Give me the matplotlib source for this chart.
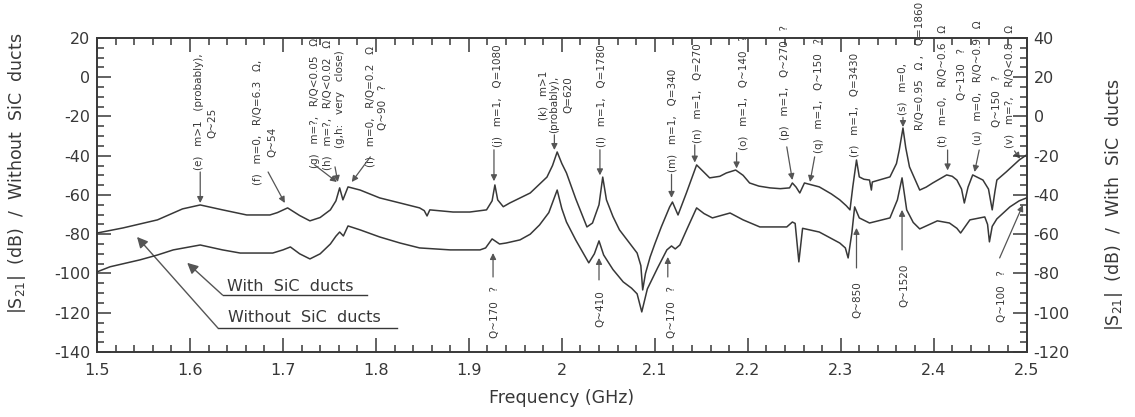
import matplotlib
matplotlib.use("Agg")
import matplotlib.pyplot as plt
from matplotlib.ticker import MultipleLocator

# --- data (GHz, dB) ---
# upper trace, left axis
without_f = [1.500, 1.528, 1.565, 1.592, 1.611, 1.635, 1.661, 1.686, 1.694, 1.705,
             1.718, 1.729, 1.740, 1.751, 1.757, 1.761, 1.7645, 1.770, 1.783, 1.804,
             1.826, 1.847, 1.852, 1.855, 1.858, 1.883, 1.901, 1.919, 1.925, 1.928,
             1.931, 1.937, 1.944, 1.966, 1.984, 1.990, 1.995, 2.000, 2.005, 2.015,
             2.027, 2.033, 2.040, 2.044, 2.048, 2.055, 2.062, 2.072, 2.081, 2.085,
             2.087, 2.090, 2.095, 2.100, 2.107, 2.116, 2.119, 2.125, 2.134, 2.145,
             2.159, 2.170, 2.177, 2.187, 2.195, 2.202, 2.212, 2.224, 2.235, 2.245,
             2.248, 2.252, 2.256, 2.261, 2.277, 2.290, 2.299, 2.306, 2.310, 2.313,
             2.317, 2.320, 2.325, 2.331, 2.333, 2.334, 2.353, 2.360, 2.363, 2.367,
             2.370, 2.374, 2.385, 2.392, 2.399, 2.414, 2.420, 2.425, 2.430, 2.433,
             2.437, 2.442, 2.453, 2.459, 2.463, 2.466, 2.468, 2.478, 2.492, 2.500]
without_db = [-79.4, -76.8, -72.7, -67.1, -65.1, -67.6, -70.2, -70.2, -69.0, -66.6,
              -70.5, -73.2, -71.5, -67.6, -63.0, -56.4, -62.5, -55.9, -57.5, -61.5,
              -64.1, -66.6, -68.0, -70.7, -67.6, -68.7, -68.7, -67.6, -63.0, -54.9,
              -62.5, -66.0, -64.1, -59.0, -50.9, -45.0, -38.1, -44.0, -48.8, -62.0,
              -76.3, -74.3, -65.0, -50.9, -62.5, -71.0, -77.8, -84.0, -89.6, -96.0,
              -108.4, -100.0, -91.6, -85.0, -76.3, -66.1, -63.6, -70.2, -59.0, -44.7,
              -51.3, -50.5, -48.8, -47.3, -50.0, -53.9, -55.5, -56.4, -56.8, -56.4,
              -53.9, -56.0, -59.0, -53.9, -55.9, -59.5, -62.5, -65.5, -67.6, -55.9,
              -42.2, -50.8, -52.0, -52.4, -57.5, -53.4, -50.8, -44.0, -37.1, -25.9,
              -36.0, -45.7, -57.5, -56.0, -53.9, -49.8, -50.5, -52.4, -57.0, -64.1,
              -56.0, -49.8, -52.4, -57.0, -67.6, -58.0, -52.4, -48.3, -42.2, -39.6]

# lower trace, right axis
with_f = [1.500, 1.514, 1.546, 1.565, 1.582, 1.611, 1.635, 1.654, 1.689, 1.700,
          1.708, 1.718, 1.729, 1.740, 1.751, 1.757, 1.761, 1.765, 1.770, 1.783,
          1.804, 1.826, 1.847, 1.880, 1.912, 1.918, 1.925, 1.933, 1.940, 1.955,
          1.966, 1.976, 1.986, 1.995, 2.000, 2.005, 2.015, 2.029, 2.035, 2.040,
          2.045, 2.055, 2.066, 2.075, 2.081, 2.086, 2.092, 2.103, 2.113, 2.118,
          2.122, 2.127, 2.135, 2.145, 2.153, 2.162, 2.181, 2.195, 2.213, 2.242,
          2.248, 2.251, 2.255, 2.259, 2.277, 2.299, 2.305, 2.308, 2.312, 2.315,
          2.320, 2.331, 2.353, 2.361, 2.366, 2.371, 2.378, 2.385, 2.404, 2.417,
          2.425, 2.429, 2.439, 2.455, 2.458, 2.460, 2.463, 2.468, 2.482, 2.492,
          2.500]
with_db = [-79.2, -76.6, -73.1, -70.6, -68.0, -65.5, -68.0, -69.6, -69.6, -68.0,
           -66.5, -70.0, -72.6, -70.0, -65.0, -61.0, -58.9, -60.9, -55.8, -57.8,
           -61.4, -64.5, -67.0, -68.0, -68.0, -67.0, -62.4, -65.0, -64.5, -62.9,
           -60.0, -55.3, -49.0, -37.5, -47.0, -53.8, -63.0, -74.6, -70.0, -63.4,
           -70.6, -78.0, -84.3, -87.5, -90.4, -99.6, -87.9, -77.2, -68.0, -66.0,
           -67.5, -65.5, -57.0, -46.6, -49.5, -51.7, -49.2, -52.7, -56.3, -56.3,
           -53.8, -54.5, -74.1, -57.0, -58.9, -64.5, -67.0, -72.1, -59.4, -46.1,
           -51.7, -54.3, -51.7, -42.5, -31.3, -47.6, -54.0, -57.3, -53.2, -54.3,
           -57.0, -59.4, -52.7, -51.2, -55.0, -63.9, -56.0, -52.2, -46.1, -43.0,
           -41.5]

x_ticks = [1.5, 1.6, 1.7, 1.8, 1.9, 2.0, 2.1, 2.2, 2.3, 2.4, 2.5]
x_ticklabels = ["1.5", "1.6", "1.7", "1.8", "1.9", "2", "2.1", "2.2", "2.3", "2.4", "2.5"]
left_ticks = [-140, -120, -100, -80, -60, -40, -20, 0, 20]
right_ticks = [-120, -100, -80, -60, -40, -20, 0, 20, 40]

# mode labels: (text, x, bottom y in left-axis dB)
top_labels = [
    ("(e)   m>1   (probably),", 1.610, -47.3),
    ("Q~25", 1.624, -31.0),
    ("(f)   m=0,   R/Q=6.3   \u03a9,", 1.673, -54.9),
    ("Q~54", 1.689, -40.6),
    ("(g)   m=?,   R/Q<0.05   \u03a9", 1.734, -46.2),
    ("(h)   m=?,   R/Q<0.02   \u03a9", 1.748, -47.3),
    ("(g,h:   very   close)", 1.761, -36.1),
    ("(i)   m=0,   R/Q=0.2   \u03a9", 1.794, -45.7),
    ("Q~90   ?", 1.808, -26.9),
    ("(j)   m=1,   Q=1080", 1.931, -35.5),
    ("(k)   m>1", 1.980, -21.8),
    ("(probably),", 1.992, -28.4),
    ("Q=620", 2.007, -18.2),
    ("(l)   m=1,   Q=1780", 2.043, -35.5),
    ("(m)   m=1,   Q=340", 2.119, -48.3),
    ("(n)   m=1,   Q=270", 2.146, -33.5),
    ("(o)   m=1,   Q~140   ?", 2.195, -37.1),
    ("(p)   m=1,   Q~270   ?", 2.240, -32.0),
    ("(q)   m=1,   Q~150   ?", 2.277, -38.6),
    ("(r)   m=1,   Q=3430", 2.315, -40.6),
    ("(s)   m=0,", 2.367, -19.2),
    ("R/Q=0.95   \u03a9 ,   Q=1860", 2.385, -26.9),
    ("(t)   m=0,   R/Q~0.6   \u03a9", 2.410, -35.5),
    ("Q~130   ?", 2.431, -11.6),
    ("(u)   m=0,   R/Q~0.9   \u03a9", 2.447, -34.5),
    ("Q~150   ?", 2.468, -25.4),
    ("(v)   m=?,   R/Q<0.8   \u03a9", 2.482, -36.1),
    ("Q~170   ?", 1.928, -132.9),
    ("Q~410", 2.041, -127.3),
    ("Q~170   ?", 2.119, -132.9),
    ("Q~850", 2.318, -122.7),
    ("Q~1520", 2.369, -117.1),
    ("Q~100   ?", 2.474, -124.7),
]

# arrows: (from x, from y, to x, to y), left-axis dB
arrows = [
    (1.611, -48.3, 1.611, -64.1),
    (1.684, -48.3, 1.702, -64.1),
    (1.734, -44.7, 1.758, -53.4),
    (1.756, -45.7, 1.759, -53.4),
    (1.794, -40.6, 1.774, -53.4),
    (1.927, -37.0, 1.927, -53.0),
    (1.992, -29.4, 1.992, -37.1),
    (2.041, -37.0, 2.041, -50.0),
    (2.118, -49.5, 2.118, -61.5),
    (2.143, -34.5, 2.143, -43.5),
    (2.188, -38.5, 2.188, -46.5),
    (2.242, -35.5, 2.248, -52.4),
    (2.272, -40.6, 2.267, -53.4),
    (2.367, -20.5, 2.367, -25.4),
    (2.415, -37.1, 2.415, -47.5),
    (2.449, -37.1, 2.444, -48.3),
    (2.487, -37.6, 2.493, -41.6),
    (1.926, -101.8, 1.926, -89.6),
    (2.040, -103.3, 2.040, -92.1),
    (2.114, -101.8, 2.114, -91.6),
    (2.317, -97.2, 2.317, -76.8),
    (2.366, -88.0, 2.366, -67.6),
    (2.471, -92.1, 2.496, -65.1),
]

INK = "#383838"
ARROW = "#555555"

plt.rcParams["font.family"] = ["DejaVu Sans"]
plt.rcParams["axes.unicode_minus"] = False

fig = plt.figure(figsize=(11.35, 4.17), dpi=100)
ax = fig.add_axes([0.0855, 0.156, 0.819, 0.753])
ax2 = ax.twinx()

ax.plot(without_f, without_db, color=INK, lw=1.1)
ax2.plot(with_f, with_db, color=INK, lw=1.1)

ax.set_xlim(1.5, 2.5)
ax.set_ylim(-140, 20)
ax2.set_ylim(-120, 40)

ax.set_xticks(x_ticks)
ax.set_xticklabels(x_ticklabels)
ax.set_yticks(left_ticks)
ax2.set_yticks(right_ticks)
ax.xaxis.set_minor_locator(MultipleLocator(0.02))
ax.yaxis.set_minor_locator(MultipleLocator(5))
ax2.yaxis.set_minor_locator(MultipleLocator(5))

ax.tick_params(axis="both", which="both", direction="in", colors=INK,
               labelsize=11.5, width=1.1)
ax.tick_params(axis="x", which="both", top=True, pad=8)
ax.tick_params(axis="y", which="both", right=False, pad=5)
ax.tick_params(which="major", length=10)
ax.tick_params(which="minor", length=5)
ax2.tick_params(axis="y", which="both", direction="in", colors=INK,
                labelsize=11.5, width=1.1, pad=5)
ax2.tick_params(which="major", length=10)
ax2.tick_params(which="minor", length=5)
for a in (ax, ax2):
    for s in a.spines.values():
        s.set_linewidth(1.2)
        s.set_color(INK)

ax.set_xlabel("Frequency (GHz)", fontsize=12.5, color=INK, labelpad=8)
ax.set_ylabel("|S$_{\\mathregular{21}}$|  (dB)  /  Without  SiC  ducts",
              fontsize=12.5, color=INK)
ax.yaxis.set_label_coords(-0.074, 0.57)
ax2.set_ylabel("|S$_{\\mathregular{21}}$|  (dB)  /  With  SiC  ducts",
               fontsize=12.5, color=INK, rotation=90)
ax2.yaxis.set_label_coords(1.082, 0.47)

for txt, x, y in top_labels:
    ax.text(x, y, txt, rotation=90, ha="center", va="bottom",
            fontsize=7.5, color=INK)

for x0, y0, x1, y1 in arrows:
    ax.annotate("", xy=(x1, y1), xytext=(x0, y0),
                arrowprops=dict(arrowstyle="-|>", color=ARROW, lw=0.9,
                                mutation_scale=9, shrinkA=0, shrinkB=0))

# trace labels
ax.text(1.640, -106.9, "With  SiC  ducts", ha="left", va="center",
        fontsize=11.5, color=INK)
ax.plot([1.635, 1.790], [-111.0, -111.0], color=INK, lw=1.0)
ax.annotate("", xy=(1.597, -94.6), xytext=(1.635, -111.0),
            arrowprops=dict(arrowstyle="-|>", color=ARROW, lw=1.0,
                            mutation_scale=16, shrinkA=0, shrinkB=0))
ax.text(1.641, -122.7, "Without  SiC  ducts", ha="left", va="center",
        fontsize=11.5, color=INK)
ax.plot([1.630, 1.823], [-127.8, -127.8], color=INK, lw=1.0)
ax.annotate("", xy=(1.543, -81.4), xytext=(1.630, -127.8),
            arrowprops=dict(arrowstyle="-|>", color=ARROW, lw=1.0,
                            mutation_scale=16, shrinkA=0, shrinkB=0))

fig.savefig("out.png", dpi=100)
